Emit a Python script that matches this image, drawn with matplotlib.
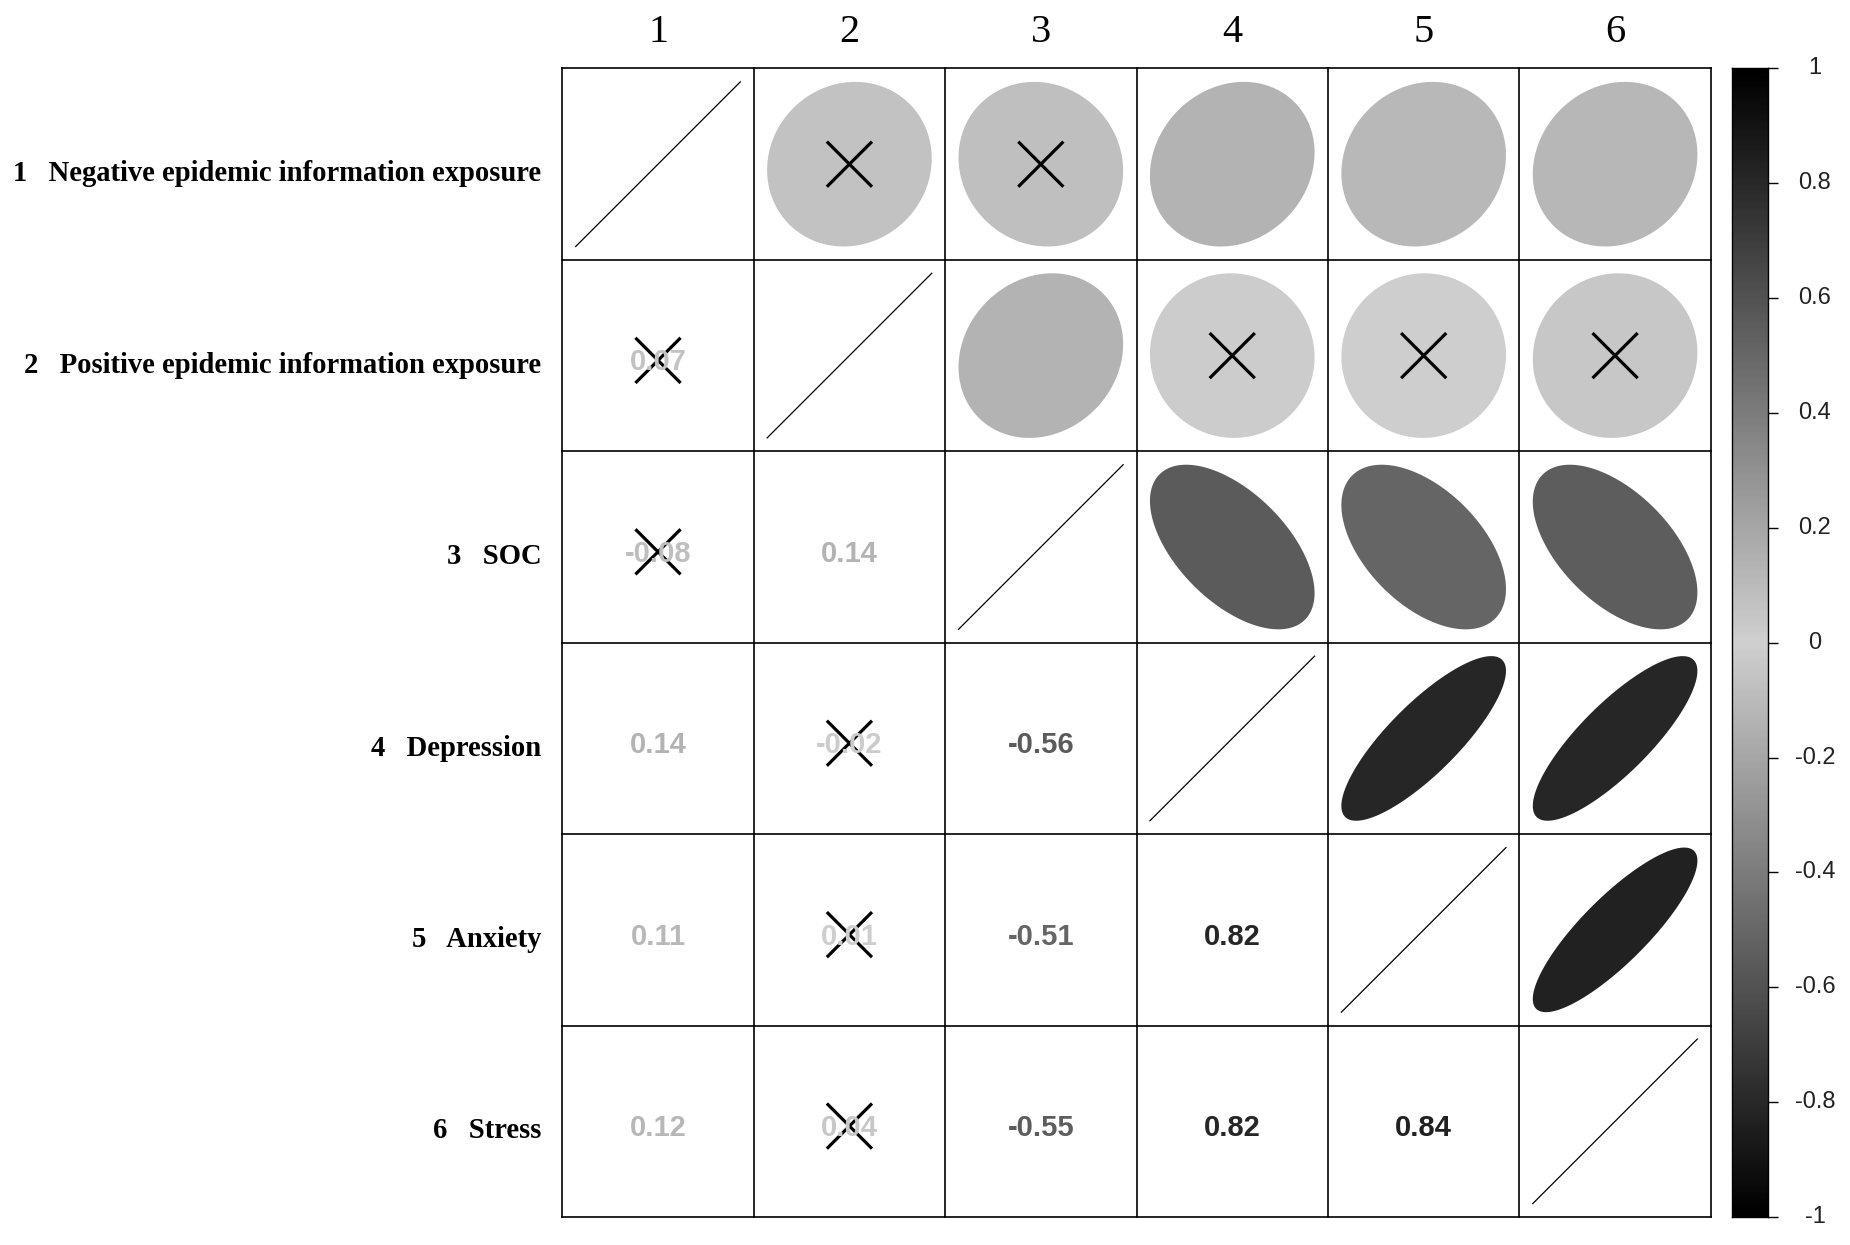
import numpy as np
import matplotlib
matplotlib.use("Agg")
import matplotlib.pyplot as plt
from matplotlib.colors import LinearSegmentedColormap, Normalize
from matplotlib.patches import Polygon

# variable names and correlation matrix
names = ["Negative epidemic information exposure",
         "Positive epidemic information exposure",
         "SOC", "Depression", "Anxiety", "Stress"]
corr = np.array([
    [1.00, 0.07, -0.08, 0.14, 0.11, 0.12],
    [0.07, 1.00, 0.14, -0.02, 0.01, 0.04],
    [-0.08, 0.14, 1.00, -0.56, -0.51, -0.55],
    [0.14, -0.02, -0.56, 1.00, 0.82, 0.82],
    [0.11, 0.01, -0.51, 0.82, 1.00, 0.84],
    [0.12, 0.04, -0.55, 0.82, 0.84, 1.00],
])
# non significant pairs (crossed out)
insig = [(0, 1), (0, 2), (1, 3), (1, 4), (1, 5)]
cbar_ticks = [1, 0.8, 0.6, 0.4, 0.2, 0, -0.2, -0.4, -0.6, -0.8, -1]

n = len(names)
cmap = LinearSegmentedColormap.from_list("grey2", ["#000000", "#d0d0d0", "#000000"])
norm = Normalize(-1, 1)

fig = plt.figure(figsize=(18.5, 12.45), dpi=100)
ax = fig.add_axes([0.3038, 0.0225, 0.6211, 0.9225])
ax.set_xlim(0, n)
ax.set_ylim(0, n)
ax.set_aspect("equal")
ax.axis("off")

t = np.linspace(0, 2 * np.pi, 200)
rad = 0.43
crossed = set(insig) | {(j, i) for i, j in insig}

for i in range(n):
    for j in range(n):
        cx = j + 0.5
        cy = n - i - 0.5
        r = corr[i, j]
        col = cmap(norm(r))
        if i == j:
            ax.plot([cx - rad, cx + rad], [cy - rad, cy + rad], color="black", lw=0.9)
        elif j > i:
            d = np.arccos(r)
            xs = cx + rad * np.cos(t + d / 2)
            ys = cy + rad * np.cos(t - d / 2)
            ax.add_patch(Polygon(np.column_stack([xs, ys]), closed=True,
                                 facecolor=col, edgecolor="none"))
        else:
            cy = cy - 0.025
            ax.text(cx, cy - 0.01, "%.2f" % r, ha="center", va="center", color=col,
                    fontsize=21, fontweight="bold", family="Liberation Sans")
        if (i, j) in crossed:
            h = 0.112
            ax.plot([cx - h, cx + h], [cy - h, cy + h], color="black", lw=2.3)
            ax.plot([cx - h, cx + h], [cy + h, cy - h], color="black", lw=2.3)

# grid
for k in range(n + 1):
    ax.plot([0, n], [k, k], color="black", lw=1.2, clip_on=False)
    ax.plot([k, k], [0, n], color="black", lw=1.2, clip_on=False)

# labels
for k in range(n):
    ax.text(k + 0.5, n + 0.19, str(k + 1), ha="center", va="center",
            fontsize=29, family="Liberation Serif")
    ax.text(-0.11, n - k - 0.5 - 0.05, "%d   %s" % (k + 1, names[k]), ha="right",
            va="center", fontsize=20.6, fontweight="bold", family="Liberation Serif")

# colour bar
cax = fig.add_axes([0.9362, 0.0225, 0.0195, 0.9225])
grad = np.linspace(1, -1, 400).reshape(-1, 1)
cax.imshow(grad, cmap=cmap, norm=norm, aspect="auto", extent=[0, 1, -1, 1])
cax.set_xticks([])
cax.yaxis.tick_right()
cax.set_yticks(cbar_ticks)
cax.set_yticklabels([])
cax.tick_params(axis="y", length=7, width=1)
for v in cbar_ticks:
    cax.text(2.3, v, "%g" % v, transform=cax.get_yaxis_transform(), ha="center",
             va="center", fontsize=17, family="Liberation Sans", color="#222222")
for s in cax.spines.values():
    s.set_linewidth(1)

plt.savefig("out.png", dpi=100)
